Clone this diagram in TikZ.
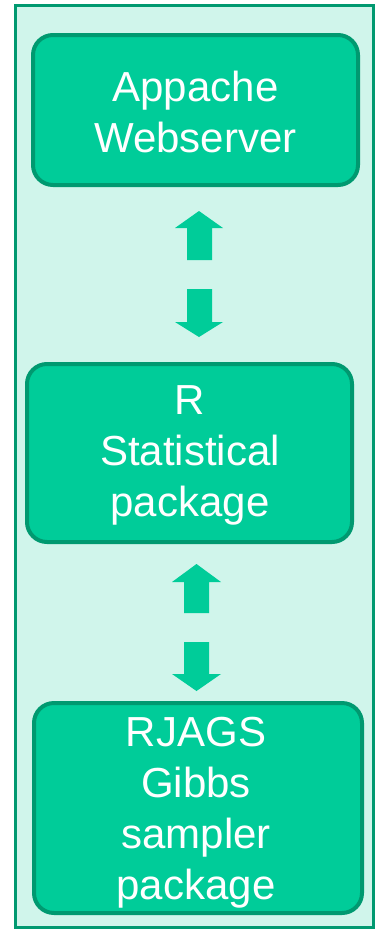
\documentclass[tikz,border=0pt]{standalone}
\usepackage{fontspec}
\setmainfont{Liberation Sans}
\definecolor{boxfill}{HTML}{00CC99}
\definecolor{boxline}{HTML}{009970}
\definecolor{bgfill}{HTML}{D0F5EB}
\begin{document}
\begin{tikzpicture}[x=1pt,y=-1pt,
  box/.style={draw=boxline, fill=boxfill, line width=4pt, rounded corners=20pt},
  lbl/.style={text=white, align=center, font=\fontsize{42}{51}\selectfont, inner sep=0pt},
  blockarrow/.style={fill=boxfill, draw=none}]
\useasboundingbox (0,0) rectangle (375,930);
\fill[white] (0,0) rectangle (375,930);
\draw[draw=boxline, fill=bgfill, line width=3pt] (15,5.5) rectangle (373,927.5);
% boxes
\draw[box] (33,35) rectangle (358,185);
\node[lbl] (t1) at (195.5,111.5) {Appache\\Webserver};
\draw[box] (27,364) rectangle (352,542);
\node[lbl] (t2) at (190,455) {R\\Statistical\\package};
\draw[box] (34,703) rectangle (362,913);
\node[lbl] (t3) at (196,812.5) {RJAGS\\Gibbs\\sampler\\package};
% arrows pair 1
\fill[blockarrow] (199,211) -- (223,228) -- (212,228) -- (212,260) -- (187,260) -- (187,228) -- (175,228) -- cycle;
\fill[blockarrow] (199,337) -- (223,322) -- (212,322) -- (212,289) -- (187,289) -- (187,322) -- (175,322) -- cycle;
% arrows pair 2
\fill[blockarrow] (196.5,564) -- (221,582) -- (209,582) -- (209,613) -- (184,613) -- (184,582) -- (172,582) -- cycle;
\fill[blockarrow] (196.5,691) -- (221,674) -- (209,674) -- (209,642) -- (184,642) -- (184,674) -- (172,674) -- cycle;
\end{tikzpicture}
\end{document}
